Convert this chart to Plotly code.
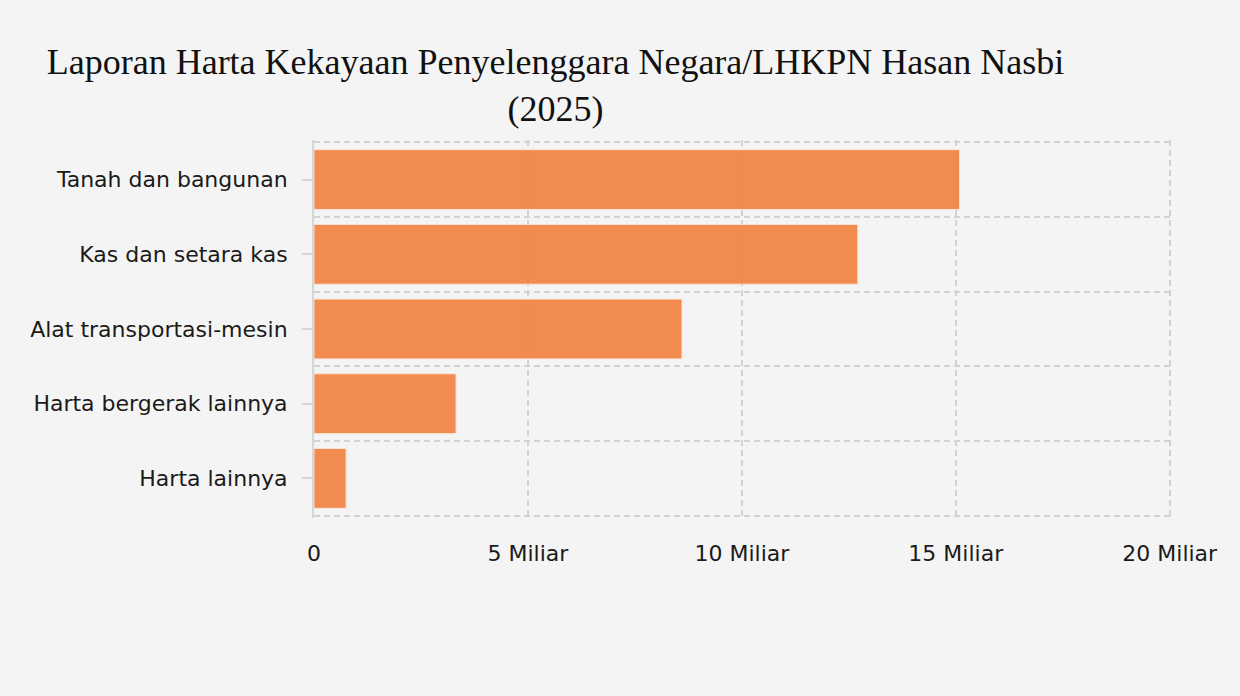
import plotly.graph_objects as go

categories = ["Tanah dan bangunan", "Kas dan setara kas", "Alat transportasi-mesin",
              "Harta bergerak lainnya", "Harta lainnya"]
values = [15.09e9, 12.71e9, 8.60e9, 3.32e9, 0.75e9]
x_tickvals = [0, 5e9, 10e9, 15e9, 20e9]
x_ticktext = ["0", "5 Miliar", "10 Miliar", "15 Miliar", "20 Miliar"]
x_range = [0, 20.1e9]
title_text = "Laporan Harta Kekayaan Penyelenggara Negara/LHKPN Hasan Nasbi<br>(2025)"

GRID = "#d2d2d2"
AXIS = "#d6d6d6"
FONT = "DejaVu Sans"
# plotted bottom-to-top, so the first category ends up at the top
y_cats = categories[::-1]
x_vals = values[::-1]
y_range = [-0.53, len(categories) - 0.47]

fig = go.Figure()
fig.add_trace(go.Bar(
    y=y_cats, x=x_vals, orientation="h",
    marker=dict(color="#F2803E", opacity=0.9, line=dict(color="#FCE3D2", width=1)),
    showlegend=False,
))
# helper trace so an overlaid axis can draw ticks at category centres
fig.add_trace(go.Scatter(
    y=y_cats, x=x_vals, yaxis="y2", mode="markers",
    marker=dict(opacity=0), hoverinfo="skip", showlegend=False,
))

fig.update_layout(
    width=1240, height=696,
    paper_bgcolor="#f4f4f4", plot_bgcolor="#f4f4f4",
    margin=dict(l=314, r=66, t=140, b=178, autoexpand=False),
    bargap=0.2,
    showlegend=False,
    title=dict(text=title_text, x=0.448, xanchor="center", y=0.893, yanchor="top",
               font=dict(family="Liberation Serif", size=36, color="#111111")),
    font=dict(family=FONT, size=22, color="#1a1a1a"),
    xaxis=dict(
        range=x_range, tickvals=x_tickvals, ticktext=x_ticktext,
        showgrid=True, gridcolor=GRID, gridwidth=1.5, griddash="6px,4px",
        zeroline=False, showline=False, ticks="",
        tickfont=dict(family=FONT, size=22, color="#1a1a1a"),
        ticklabelstandoff=20,
    ),
    yaxis=dict(
        type="category", range=y_range, tickson="boundaries",
        showgrid=True, gridcolor=GRID, gridwidth=1.5, griddash="6px,4px",
        ticks="", showline=True, linecolor=AXIS, linewidth=2, zeroline=False,
        tickfont=dict(family=FONT, size=22, color="#1a1a1a"),
        ticklabelstandoff=20,
    ),
    yaxis2=dict(
        type="category", overlaying="y", matches="y", side="left",
        range=y_range,
        ticks="outside", ticklen=11, tickwidth=2, tickcolor=AXIS,
        showticklabels=False, showgrid=False, showline=False, zeroline=False,
    ),
)

fig.write_html("out.html", config={"displayModeBar": False},
               post_script="document.body.style.margin='0';")
